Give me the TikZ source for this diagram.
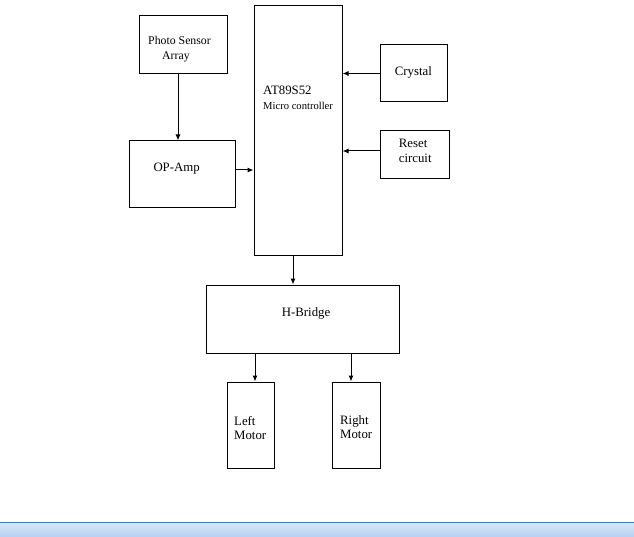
\documentclass[tikz,border=0pt]{standalone}
\usepackage{fontspec}
\setmainfont{Liberation Serif}
\usetikzlibrary{arrows.meta}
\begin{document}
\begin{tikzpicture}[x=1pt,y=-1pt,
  blk/.style={draw=black,line width=1pt,fill=white,inner sep=0pt,rectangle},
  txt/.style={anchor=base west,inner sep=0pt,font=\fontsize{12.8}{14}\selectfont},
  stxt/.style={txt,font=\fontsize{11.8}{13}\selectfont},
  xtxt/.style={txt,font=\fontsize{10.6}{12}\selectfont},
  arr/.style={line width=1pt,-{Latex[length=6pt,width=5pt]}}]
\useasboundingbox (0,0) rectangle (634,537);
\fill[white] (0,0) rectangle (634,537);
% boxes
\node[blk,minimum width=88pt,minimum height=58pt] (ps) at (183,45) {};
\node[blk,minimum width=88pt,minimum height=250pt] (mc) at (298,131) {};
\node[blk,minimum width=67pt,minimum height=57pt] (cr) at (413.5,73.5) {};
\node[blk,minimum width=69pt,minimum height=48pt] (rs) at (414.5,155) {};
\node[blk,minimum width=106pt,minimum height=67pt] (op) at (182,174.5) {};
\node[blk,minimum width=193pt,minimum height=68pt] (hb) at (302.5,319) {};
\node[blk,minimum width=47pt,minimum height=86pt] (lm) at (250.5,425) {};
\node[blk,minimum width=48pt,minimum height=86pt] (rm) at (356,425) {};
% connectors
\draw[arr] ([xshift=-5pt]ps.south) -- ([xshift=-4pt]op.north);
\draw[arr] ([yshift=4.5pt]op.east) -- ([yshift=4.5pt]op.east -| mc.west);
\draw[arr] (cr.west) -- (cr.west -| mc.east);
\draw[arr] ([yshift=4pt]rs.west) -- ([yshift=4pt]rs.west -| mc.east);
\draw[arr] ([xshift=-5pt]mc.south) -- ([xshift=-5pt]mc.south |- hb.north);
\draw[arr] ([xshift=4.5pt]lm.north |- hb.south) -- ([xshift=4.5pt]lm.north);
\draw[arr] ([xshift=-5pt]rm.north |- hb.south) -- ([xshift=-5pt]rm.north);
% texts
\node[stxt] (t1) at (148,45) {Photo Sensor};
\node[stxt] (t2) at (162,60) {Array};
\node[txt] (t3) at (263,95) {AT89S52};
\node[xtxt] (t4) at (263,110) {Micro controller};
\node[txt] (t5) at (394.7,76) {Crystal};
\node[txt] (t6) at (398.7,148) {Reset};
\node[txt] (t7) at (398.7,163) {circuit};
\node[txt] (t8) at (153.3,172) {OP-Amp};
\node[txt] (t9) at (281.7,316.7) {H-Bridge};
\node[txt] (t10) at (234,425) {Left};
\node[txt] (t11) at (234,439.3) {Motor};
\node[txt] (t12) at (340,424) {Right};
\node[txt] (t13) at (340,438.3) {Motor};
% bottom bar
\shade[top color={rgb,255:red,214;green,230;blue,248},bottom color={rgb,255:red,184;green,208;blue,240}] (0,523) rectangle (634,537);
\draw[line width=1pt,color={rgb,255:red,74;green,122;blue,168}] (0,522.5) -- (634,522.5);
\end{tikzpicture}
\end{document}
